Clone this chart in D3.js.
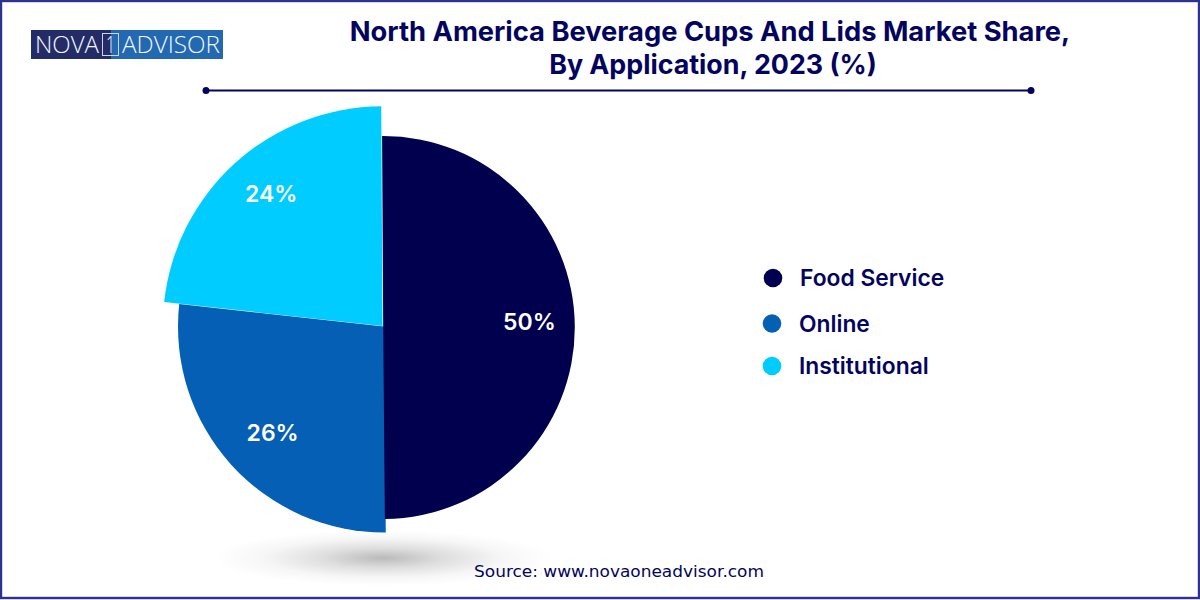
<!DOCTYPE html>
<html><head><meta charset="utf-8">
<script src="https://cdn.jsdelivr.net/npm/d3@7"></script>
<style>html,body{margin:0;padding:0;background:#fff}svg{display:block}</style>
</head><body><svg id="c" width="1200" height="600"></svg>
<script>
const categories = ["Food Service", "Online", "Institutional"];
const labelTexts = ["50%", "26%", "24%"];
// slice sweep (the artwork is not exactly proportional to its labels)
const sliceSweep = [50, 26.9, 23.19];
const colors = ["#00004f", "#0560b5", "#00ccff"];
const titleLines = ["North America Beverage Cups And Lids Market Share,", "By Application, 2023 (%)"];
const sourceText = "Source: www.novaoneadvisor.com";

const outerRadii = [191.5, 206, 219.7];
const sliceShift = [[0.7, 1], [1.5, 0], [0, -0.5]];
const drawOrder = [1, 0, 2];
const labelRadii = [147, 153, 173];
const labelNudgeDeg = [-1.3, -2, 2];
const cx = 382.5, cy = 326.5;
const navy = "#03045e";
const svg = d3.select("#c");
const sans = "Inter, 'Liberation Sans', sans-serif";

const defs = svg.append("defs");
const grad = defs.append("radialGradient").attr("id", "shadow");
[[0, "#000", .27], [.35, "#000", .13], [.7, "#000", .035], [1, "#000", 0]].forEach(s =>
  grad.append("stop").attr("offset", s[0]).attr("stop-color", s[1]).attr("stop-opacity", s[2]));

svg.append("rect").attr("width", 1200).attr("height", 600).attr("fill", "#fff");
svg.append("rect").attr("x", 1).attr("y", 1).attr("width", 1198).attr("height", 597)
  .attr("fill", "none").attr("stroke", "#2e3192").attr("stroke-width", 2.4);

// logo
const logo = svg.append("g");
logo.append("rect").attr("x", 31).attr("y", 30).attr("width", 192).attr("height", 29).attr("fill", "#2269b1");
logo.append("rect").attr("x", 31).attr("y", 30).attr("width", 80).attr("height", 29).attr("fill", "#232c66");
logo.append("rect").attr("x", 102.5).attr("y", 33.5).attr("width", 16).attr("height", 22)
  .attr("fill", "none").attr("stroke", "#c9d6ea").attr("stroke-width", 1);
const lt = (t, x, len) => logo.append("text").attr("x", x).attr("y", 53).text(t)
  .attr("font-family", "'Open Sans'").attr("font-weight", 300).attr("font-size", 23).attr("fill", "#f2f6fb")
  .attr("textLength", len).attr("lengthAdjust", "spacingAndGlyphs");
lt("NOVA", 35, 64); lt("1", 106, 9); lt("ADVISOR", 122, 98);

// title
const titleX = [710, 713], titleSize = [27.3, 26.8];
svg.append("g").selectAll("text").data(titleLines).join("text")
  .attr("x", (d, i) => titleX[i]).attr("y", (d, i) => 41 + i * 33).attr("text-anchor", "middle")
  .attr("font-family", sans).attr("font-weight", 700).attr("font-size", (d, i) => titleSize[i]).attr("fill", navy).text(d => d);

// rule
svg.append("line").attr("x1", 206).attr("x2", 1031).attr("y1", 90.5).attr("y2", 90.5).attr("stroke", navy).attr("stroke-width", 2);
svg.append("g").selectAll("circle").data([206, 1031]).join("circle")
  .attr("cx", d => d).attr("cy", 90.5).attr("r", 3.5).attr("fill", navy);

// shadow
svg.append("ellipse").attr("cx", 383).attr("cy", 558).attr("rx", 170).attr("ry", 28).attr("fill", "url(#shadow)");

// pie
const pie = d3.pie().sort(null).value(d => d)
  .startAngle(-0.33 * Math.PI / 180).endAngle(2 * Math.PI)(sliceSweep);
const g = svg.append("g").attr("transform", `translate(${cx},${cy})`);
drawOrder.forEach(i => {
  g.append("path").datum(pie[i])
    .attr("transform", `translate(${sliceShift[i][0]},${sliceShift[i][1]})`)
    .attr("d", d3.arc().innerRadius(0).outerRadius(outerRadii[i]))
    .attr("fill", colors[i]);
});
g.selectAll("text").data(pie).join("text")
  .attr("transform", (d, i) => {
    const a = (d.startAngle + d.endAngle) / 2 + labelNudgeDeg[i] * Math.PI / 180;
    return `translate(${labelRadii[i] * Math.sin(a)},${-labelRadii[i] * Math.cos(a)})`;
  })
  .attr("text-anchor", "middle").attr("dy", "0.36em")
  .attr("font-family", sans).attr("font-weight", 600).attr("font-size", 23).attr("fill", "#fff")
  .text((d, i) => labelTexts[i]);

// legend
const legY = d3.scaleOrdinal().domain(categories).range([278, 323.5, 366]);
const legX = [773, 772, 772], legT = [800, 799, 799];
const leg = svg.append("g").selectAll("g").data(categories).join("g");
leg.append("circle").attr("cx", (d, i) => legX[i]).attr("cy", d => legY(d)).attr("r", 9.3).attr("fill", (d, i) => colors[i]);
leg.append("text").attr("x", (d, i) => legT[i]).attr("y", d => legY(d)).attr("dy", "0.36em")
  .attr("font-family", sans).attr("font-weight", 600).attr("font-size", 22.8).attr("fill", navy).text(d => d);

// source
svg.append("text").attr("x", 619).attr("y", 577).attr("text-anchor", "middle")
  .attr("font-family", "'DejaVu Sans', sans-serif").attr("font-size", 15).attr("fill", navy)
  .attr("textLength", 290).attr("lengthAdjust", "spacingAndGlyphs")
  .text(sourceText);
</script></body></html>
